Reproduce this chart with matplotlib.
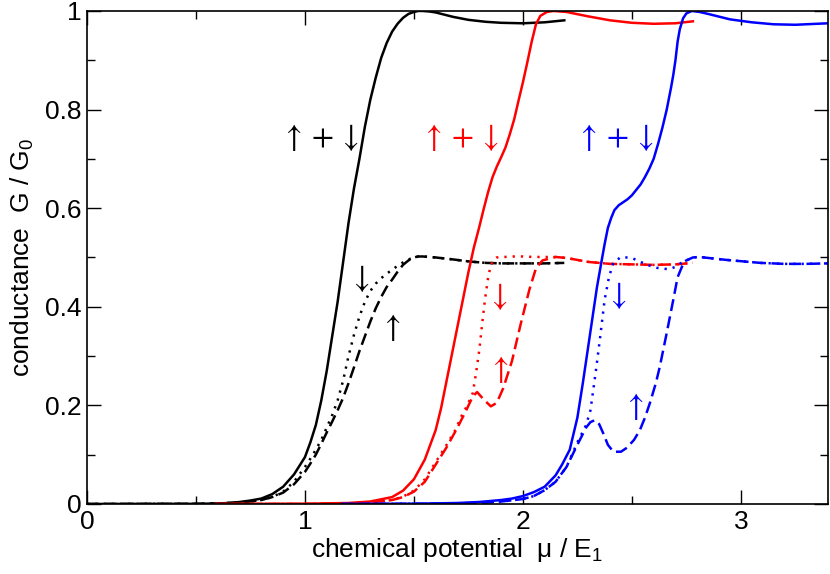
import numpy as np
import matplotlib
matplotlib.use('Agg')
import matplotlib.pyplot as plt
from matplotlib.ticker import MultipleLocator

plt.rcParams['font.family'] = ['Liberation Sans', 'DejaVu Sans']
plt.rcParams['mathtext.fontset'] = 'custom'
plt.rcParams['mathtext.rm'] = 'Liberation Sans'
plt.rcParams['mathtext.it'] = 'Liberation Sans:italic'

# black: first subband
blk_x = [0, 0.5, 0.6, 0.65, 0.7, 0.75, 0.8, 0.85, 0.9, 0.95, 1.0, 1.025, 1.05, 1.075, 1.1, 1.125,
         1.15, 1.175, 1.2, 1.225, 1.25, 1.275, 1.3, 1.325, 1.35, 1.375, 1.4, 1.425, 1.45, 1.475,
         1.5, 1.52, 1.54, 1.57, 1.6, 1.68, 1.75, 1.83, 1.9, 2.0, 2.1, 2.19]
blk_tot = [0, 0.0003, 0.001, 0.002, 0.004, 0.007, 0.011, 0.02, 0.035, 0.06, 0.095, 0.125, 0.16, 0.21,
           0.27, 0.34, 0.41, 0.49, 0.57, 0.64, 0.70, 0.765, 0.82, 0.865, 0.905, 0.935, 0.958,
           0.974, 0.986, 0.994, 0.998, 1.0, 1.0, 0.999, 0.997, 0.988, 0.982, 0.978, 0.976, 0.975,
           0.977, 0.981]
blk_dn = [0, 0.0003, 0.001, 0.002, 0.003, 0.005, 0.008, 0.014, 0.025, 0.045, 0.075, 0.092, 0.11,
          0.13, 0.155, 0.18, 0.21, 0.25, 0.30, 0.343, 0.38, 0.41, 0.432, 0.447, 0.458, 0.467,
          0.475, 0.483, 0.49, 0.496, 0.5, 0.502, 0.502, 0.501, 0.5, 0.496, 0.492, 0.489, 0.488,
          0.488, 0.488, 0.489]
blk_up = [0, 0.0003, 0.001, 0.002, 0.003, 0.005, 0.008, 0.014, 0.023, 0.04, 0.065, 0.082, 0.10,
          0.122, 0.145, 0.167, 0.19, 0.215, 0.245, 0.277, 0.31, 0.34, 0.37, 0.397, 0.42, 0.44,
          0.455, 0.471, 0.485, 0.494, 0.5, 0.502, 0.502, 0.501, 0.5, 0.496, 0.492, 0.489, 0.488,
          0.488, 0.488, 0.489]

# red: second subband
red_tx = [0.59, 1.0, 1.2, 1.3, 1.4, 1.45, 1.5, 1.55, 1.6, 1.625, 1.65, 1.675, 1.7, 1.725, 1.75,
          1.775, 1.8, 1.82, 1.84, 1.86, 1.88, 1.9, 1.92, 1.94, 1.96, 1.98, 2.0, 2.02, 2.04, 2.06,
          2.08, 2.11, 2.14, 2.2, 2.3, 2.4, 2.5, 2.6, 2.7, 2.78]
red_tot = [0, 0.0005, 0.002, 0.005, 0.014, 0.027, 0.05, 0.09, 0.15, 0.195, 0.25, 0.305, 0.36, 0.415,
           0.47, 0.52, 0.562, 0.598, 0.632, 0.662, 0.684, 0.703, 0.723, 0.75, 0.78, 0.818, 0.855,
           0.895, 0.937, 0.973, 0.99, 0.998, 1.0, 0.998, 0.989, 0.981, 0.976, 0.974, 0.975, 0.979]
red_ux = [0.59, 1.0, 1.2, 1.3, 1.4, 1.45, 1.5, 1.55, 1.6, 1.65, 1.7, 1.74, 1.77, 1.79, 1.82, 1.853,
          1.88, 1.91, 1.95, 1.99, 2.03, 2.06, 2.09, 2.15, 2.2, 2.3, 2.4, 2.5, 2.6, 2.7, 2.78]
red_up = [0, 0, 0.001, 0.003, 0.008, 0.014, 0.025, 0.045, 0.08, 0.115, 0.155, 0.19, 0.218, 0.227,
          0.212, 0.198, 0.205, 0.235, 0.29, 0.365, 0.435, 0.478, 0.494, 0.501, 0.499, 0.491, 0.487,
          0.486, 0.485, 0.486, 0.489]
red_dx = [0.59, 1.0, 1.2, 1.3, 1.4, 1.45, 1.5, 1.55, 1.6, 1.65, 1.69, 1.72, 1.745, 1.77, 1.785, 1.80,
          1.813, 1.826, 1.84, 1.853, 1.867, 1.88, 1.95, 2.0, 2.05, 2.1, 2.15, 2.2, 2.3, 2.4, 2.5,
          2.6, 2.7, 2.78]
red_dn = [0, 0, 0.001, 0.003, 0.008, 0.015, 0.027, 0.05, 0.085, 0.12, 0.15, 0.18, 0.2, 0.225, 0.265,
          0.312, 0.365, 0.414, 0.458, 0.485, 0.496, 0.5, 0.502, 0.502, 0.501, 0.501, 0.501, 0.499,
          0.491, 0.487, 0.486, 0.485, 0.486, 0.489]

# blue: third subband
blu_tx = [1.17, 1.5, 1.7, 1.8, 1.9, 1.95, 2.0, 2.05, 2.1, 2.15, 2.18, 2.215, 2.25, 2.275, 2.3, 2.32,
          2.34, 2.36, 2.375, 2.39, 2.405, 2.42, 2.44, 2.46, 2.48, 2.5, 2.52, 2.54, 2.56, 2.58, 2.6,
          2.62, 2.64, 2.66, 2.68, 2.69, 2.7, 2.71, 2.72, 2.735, 2.75, 2.775, 2.81, 2.85, 2.95,
          3.05, 3.15, 3.25, 3.35, 3.4]
blu_tot = [0, 0.0005, 0.002, 0.004, 0.008, 0.011, 0.016, 0.024, 0.035, 0.058, 0.08, 0.11, 0.175,
           0.245, 0.32, 0.38, 0.44, 0.49, 0.527, 0.56, 0.58, 0.596, 0.606, 0.612, 0.618, 0.626,
           0.637, 0.648, 0.663, 0.68, 0.70, 0.73, 0.763, 0.80, 0.845, 0.87, 0.9, 0.938, 0.963,
           0.985, 0.995, 1.0, 0.998, 0.994, 0.983, 0.977, 0.973, 0.972, 0.974, 0.975]
blu_ux = [1.17, 1.6, 1.8, 1.9, 2.0, 2.05, 2.1, 2.15, 2.2, 2.25, 2.29, 2.31, 2.33, 2.35, 2.37, 2.39,
          2.415, 2.45, 2.477, 2.51, 2.537, 2.56, 2.583, 2.61, 2.628, 2.66, 2.69, 2.71, 2.74, 2.78,
          2.81, 2.935, 3.09, 3.2, 3.3, 3.4]
blu_up = [0, 0.0005, 0.002, 0.005, 0.01, 0.016, 0.028, 0.045, 0.075, 0.12, 0.155, 0.166, 0.17,
          0.162, 0.142, 0.12, 0.106, 0.106, 0.114, 0.13, 0.15, 0.175, 0.205, 0.245, 0.278, 0.347,
          0.414, 0.46, 0.492, 0.5, 0.501, 0.495, 0.489, 0.487, 0.487, 0.488]
blu_dx = [1.17, 1.6, 1.8, 1.9, 2.0, 2.05, 2.1, 2.15, 2.2, 2.25, 2.29, 2.31, 2.335, 2.355, 2.375, 2.395,
          2.415, 2.45, 2.5, 2.57, 2.615, 2.67, 2.7, 2.73, 2.78, 2.81, 2.935, 3.09, 3.2, 3.3, 3.4]
blu_dn = [0, 0.0005, 0.002, 0.005, 0.01, 0.016, 0.028, 0.045, 0.075, 0.125, 0.16, 0.19, 0.27, 0.34,
          0.414, 0.46, 0.489, 0.501, 0.499, 0.485, 0.479, 0.476, 0.481, 0.49, 0.5, 0.501, 0.495,
          0.489, 0.487, 0.487, 0.488]

dash = (0, (4.8, 2.2))
dot = (0, (0.9, 2.4))
lw = 1.8

fig = plt.figure(figsize=(8.3, 5.74), dpi=100)
ax = fig.add_axes([0.1048, 0.1220, 0.8928, 0.8589])

for xs, tot, ux, up, dx, dn, c in [
        (blk_x, blk_tot, blk_x, blk_up, blk_x, blk_dn, 'black'),
        (red_tx, red_tot, red_ux, red_up, red_dx, red_dn, 'red'),
        (blu_tx, blu_tot, blu_ux, blu_up, blu_dx, blu_dn, 'blue')]:
    ax.plot(xs, tot, color=c, lw=lw)
    ax.plot(ux, up, color=c, lw=lw, linestyle=dash)
    ax.plot(dx, dn, color=c, lw=lw, linestyle=dot)

fs = 23
for x, c in [(1.07, 'black'), (1.71, 'red'), (2.42, 'blue')]:
    ax.text(x, 0.743, r'$\uparrow + \downarrow$', color=c, fontsize=fs, ha='center', va='center',
            math_fontfamily='stix')
arrows = [(1.25, 0.458, r'$\downarrow$', 'black'), (1.395, 0.357, r'$\uparrow$', 'black'),
          (1.885, 0.42, r'$\downarrow$', 'red'), (1.89, 0.272, r'$\uparrow$', 'red'),
          (2.43, 0.422, r'$\downarrow$', 'blue'), (2.51, 0.197, r'$\uparrow$', 'blue')]
for x, y, s, c in arrows:
    ax.text(x, y, s, color=c, fontsize=fs, ha='center', va='center', math_fontfamily='stix')

ax.set_xlim(0, 3.4)
ax.set_ylim(0, 1)
ax.xaxis.set_minor_locator(MultipleLocator(0.5))
ax.yaxis.set_minor_locator(MultipleLocator(0.1))
ax.set_xticks([0, 1, 2, 3])
ax.set_xticklabels(['0', '1', '2', '3'])
ax.set_yticks([0, 0.2, 0.4, 0.6, 0.8, 1.0])
ax.set_yticklabels(['0', '0.2', '0.4', '0.6', '0.8', '1'])
ax.tick_params(which='both', direction='in', top=True, right=True, labelsize=19, width=1)
ax.tick_params(which='major', length=10, pad=4)
ax.tick_params(which='minor', length=5.5)
for s in ax.spines.values():
    s.set_linewidth(1.2)
ax.set_xlabel(r'chemical potential  μ / E$_\mathrm{1}$', fontsize=19, labelpad=2)
ax.set_ylabel(r'conductance  G / G$_\mathrm{0}$', fontsize=19, labelpad=6)

fig.savefig('out.png', dpi=100)
